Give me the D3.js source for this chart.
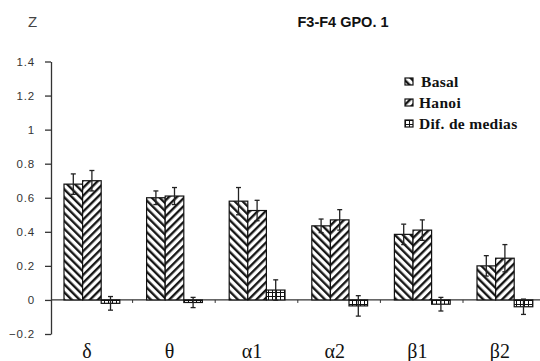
<!DOCTYPE html>
<html>
<head>
<meta charset="utf-8">
<script src="https://cdn.jsdelivr.net/npm/d3@7"></script>
<style>
  body { margin: 0; background: #fff; }
  svg { display: block; }
</style>
</head>
<body>
<svg id="chart"></svg>
<script>
const categories = ["δ", "θ", "α1", "α2", "β1", "β2"];
const basal = [0.68, 0.60, 0.58, 0.435, 0.385, 0.20];
const basalErr = [0.06, 0.04, 0.08, 0.04, 0.06, 0.06];
const hanoi = [0.70, 0.61, 0.525, 0.47, 0.41, 0.245];
const hanoiErr = [0.06, 0.05, 0.06, 0.06, 0.06, 0.08];
const difMedias = [-0.02, -0.015, 0.058, -0.035, -0.025, -0.04];
const difErr = [0.04, 0.03, 0.06, 0.06, 0.04, 0.045];
const seriesNames = ["Basal", "Hanoi", "Dif. de medias"];
const yTicks = [-0.2, 0, 0.2, 0.4, 0.6, 0.8, 1, 1.2, 1.4];

const dims = { width: 540, height: 361 };

const svg = d3.select("#chart")
  .attr("width", dims.width)
  .attr("height", dims.height);

const defs = svg.append("defs");

function stripePattern(id, angle) {
  const p = defs.append("pattern")
    .attr("id", id)
    .attr("patternUnits", "userSpaceOnUse")
    .attr("width", 5.6)
    .attr("height", 5.6)
    .attr("patternTransform", `rotate(${angle})`);
  p.append("rect").attr("width", 5.6).attr("height", 5.6).attr("fill", "#fff");
  p.append("line")
    .attr("x1", 1.2).attr("y1", 0).attr("x2", 1.2).attr("y2", 5.6)
    .attr("stroke", "#111").attr("stroke-width", 2.3);
}
stripePattern("basalPat", -45);
stripePattern("hanoiPat", 45);

const grid = defs.append("pattern")
  .attr("id", "difPat")
  .attr("patternUnits", "userSpaceOnUse")
  .attr("width", 4)
  .attr("height", 4);
grid.append("rect").attr("width", 4).attr("height", 4).attr("fill", "#fff");
grid.append("path").attr("d", "M0,0.5H4M0.5,0V4")
  .attr("stroke", "#111").attr("stroke-width", 1);

const patterns = ["url(#basalPat)", "url(#hanoiPat)", "url(#difPat)"];

const xScale = d3.scaleBand()
  .domain(categories)
  .range([50, 50 + 6 * 82.6]);

const yScale = d3.scaleLinear()
  .domain([-0.2, 1.4])
  .range([334, 61.5]);

const barW = 18.6;
const barStart = 14;

// y axis
const axisY = d3.axisLeft(yScale)
  .tickValues(yTicks)
  .tickSize(6)
  .tickSizeOuter(0)
  .tickFormat(d => d3.format("")(Math.round(d * 10) / 10));

const gy = svg.append("g")
  .attr("transform", "translate(51,0)")
  .call(axisY);
gy.select(".domain").attr("stroke", "#333").attr("stroke-width", 1.3);
gy.selectAll(".tick line").attr("stroke", "#333").attr("stroke-width", 1.3);
gy.selectAll(".tick text")
  .attr("x", -16)
  .attr("fill", "#333")
  .style("font-family", "Arial, 'Liberation Sans', sans-serif")
  .style("font-size", "11.5px")
  .style("letter-spacing", "0.8px");

// zero line with small category ticks
svg.append("line")
  .attr("x1", 51).attr("x2", 540)
  .attr("y1", yScale(0)).attr("y2", yScale(0))
  .attr("stroke", "#333").attr("stroke-width", 1.2);

svg.append("g")
  .selectAll("line")
  .data(categories.slice(1))
  .join("line")
  .attr("x1", d => xScale(d))
  .attr("x2", d => xScale(d))
  .attr("y1", yScale(0))
  .attr("y2", yScale(0) + 3)
  .attr("stroke", "#333");

const series = [
  { vals: basal, errs: basalErr },
  { vals: hanoi, errs: hanoiErr },
  { vals: difMedias, errs: difErr }
];

series.forEach((s, si) => {
  const rows = categories.map((c, i) => ({ c, v: s.vals[i], e: s.errs[i] }));
  const cx = d => xScale(d.c) + barStart + si * barW + barW / 2;

  svg.append("g")
    .selectAll("rect")
    .data(rows)
    .join("rect")
    .attr("x", d => xScale(d.c) + barStart + si * barW)
    .attr("width", barW)
    .attr("y", d => yScale(Math.max(0, d.v)))
    .attr("height", d => Math.abs(yScale(d.v) - yScale(0)))
    .attr("fill", patterns[si])
    .attr("stroke", "#111")
    .attr("stroke-width", 1.2);

  const err = svg.append("g")
    .attr("stroke", "#222")
    .attr("stroke-width", 1.3);
  err.selectAll(".stem")
    .data(rows)
    .join("line")
    .attr("class", "stem")
    .attr("x1", cx).attr("x2", cx)
    .attr("y1", d => yScale(d.v + d.e))
    .attr("y2", d => yScale(d.v - d.e));
  err.selectAll(".capT")
    .data(rows)
    .join("line")
    .attr("class", "capT")
    .attr("x1", d => cx(d) - 2.5).attr("x2", d => cx(d) + 2.5)
    .attr("y1", d => yScale(d.v + d.e))
    .attr("y2", d => yScale(d.v + d.e));
  err.selectAll(".capB")
    .data(rows)
    .join("line")
    .attr("class", "capB")
    .attr("x1", d => cx(d) - 2.5).attr("x2", d => cx(d) + 2.5)
    .attr("y1", d => yScale(d.v - d.e))
    .attr("y2", d => yScale(d.v - d.e));
});

// category labels
svg.append("g")
  .selectAll("text")
  .data(categories)
  .join("text")
  .attr("x", d => xScale(d) + barStart + 1.5 * barW - 5)
  .attr("y", 358)
  .attr("text-anchor", "middle")
  .attr("fill", "#111")
  .style("font-family", "'Liberation Serif', 'Times New Roman', serif")
  .style("font-size", "20px")
  .text(d => d);

// titles
svg.append("text")
  .attr("x", 28).attr("y", 27)
  .attr("fill", "#444")
  .style("font-family", "Arial, 'Liberation Sans', sans-serif")
  .style("font-size", "15px")
  .text("Z");

svg.append("text")
  .attr("x", 343).attr("y", 27)
  .attr("text-anchor", "middle")
  .attr("fill", "#111")
  .style("font-family", "Arial, 'Liberation Sans', sans-serif")
  .style("font-size", "14.5px")
  .style("font-weight", "bold")
  .text("F3-F4 GPO. 1");

// legend
const legend = svg.append("g")
  .selectAll("g")
  .data(seriesNames)
  .join("g")
  .attr("transform", (d, i) => `translate(405,${82 + i * 21})`);

legend.append("rect")
  .attr("x", 0).attr("y", -4)
  .attr("width", 8).attr("height", 7)
  .attr("fill", (d, i) => patterns[i])
  .attr("stroke", "#111")
  .attr("stroke-width", 1.2);

legend.append("text")
  .attr("x", (d, i) => i === 0 ? 16 : 14)
  .attr("y", 5)
  .attr("fill", "#111")
  .style("font-family", "'Liberation Serif', 'Times New Roman', serif")
  .style("font-size", "15.5px")
  .style("font-weight", "bold")
  .style("letter-spacing", "0.3px")
  .text(d => d);
</script>
</body>
</html>
